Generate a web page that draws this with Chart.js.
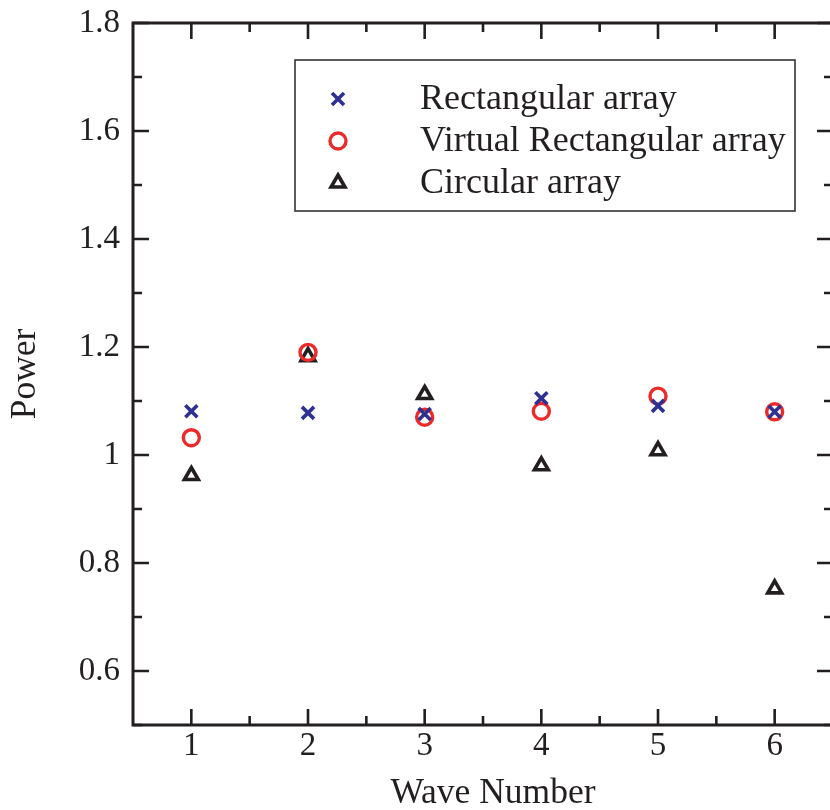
<!DOCTYPE html>
<html>
<head>
<meta charset="utf-8">
<script src="https://cdn.jsdelivr.net/npm/chart.js@4/dist/chart.umd.min.js"></script>
<style>
html,body{margin:0;padding:0;background:#fff;overflow:hidden;}
#wrap{position:absolute;left:0;top:0;width:840px;height:810px;}
</style>
</head>
<body>
<div id="wrap"><canvas id="c" width="840" height="810" style="width:840px;height:810px"></canvas></div>
<script>
const waveNumbers = [1, 2, 3, 4, 5, 6];
const rectangularArray = [1.081, 1.078, 1.076, 1.105, 1.091, 1.080];
const virtualRectangularArray = [1.032, 1.190, 1.070, 1.081, 1.109, 1.080];
const circularArray = [0.962, 1.182, 1.112, 0.980, 1.008, 0.752];
const seriesNames = ['Rectangular array', 'Virtual Rectangular array', 'Circular array'];
const xTickValues = [1, 2, 3, 4, 5, 6];
const xTickLabels = ['1', '2', '3', '4', '5', '6'];
const yTickValues = [0.6, 0.8, 1.0, 1.2, 1.4, 1.6, 1.8];
const yTickLabels = ['0.6', '0.8', '1', '1.2', '1.4', '1.6', '1.8'];
const xTitle = 'Wave Number';
const yTitle = 'Power';

const FONT = '"Liberation Serif", "Times New Roman", serif';
const TXT = '#231f20';
const BLUE = '#2e3192';
const RED = '#ed2a2a';
const BLACK = '#231f20';

function pts(ys){ return waveNumbers.map((x,i)=>({x:x, y:ys[i]})); }

const frameTicks = {
  id: 'frameTicks',
  afterDatasetsDraw(chart) {
    const {ctx, chartArea: a, scales: {x, y}} = chart;
    ctx.save();
    ctx.strokeStyle = TXT;
    ctx.lineCap = 'butt';
    ctx.lineWidth = 2.6;
    const major = 16, minor = 9;
    const xs = [];
    xTickValues.forEach(v => xs.push([v, major]));
    for (let k = 0; k < xTickValues.length - 1; k++) xs.push([(xTickValues[k] + xTickValues[k+1]) / 2, minor]);
    xs.forEach(([v, len]) => {
      const px = x.getPixelForValue(v);
      ctx.beginPath();
      ctx.moveTo(px, a.bottom); ctx.lineTo(px, a.bottom - len);
      ctx.moveTo(px, a.top); ctx.lineTo(px, a.top + len);
      ctx.stroke();
    });
    const ys = [];
    yTickValues.forEach(v => ys.push([v, major]));
    for (let k = 0; k < yTickValues.length - 1; k++) ys.push([(yTickValues[k] + yTickValues[k+1]) / 2, minor]);
    ys.push([yTickValues[0] - 0.1, minor]);
    ys.forEach(([v, len]) => {
      const py = y.getPixelForValue(v);
      ctx.beginPath();
      ctx.moveTo(a.left, py); ctx.lineTo(a.left + len, py);
      ctx.moveTo(a.right, py); ctx.lineTo(a.right - len, py);
      ctx.stroke();
    });
    ctx.lineWidth = 3;
    ctx.strokeRect(a.left, a.top, a.right - a.left, a.bottom - a.top);

    // x-axis title
    ctx.fillStyle = TXT;
    ctx.font = '35.5px ' + FONT;
    ctx.textAlign = 'center';
    ctx.textBaseline = 'alphabetic';
    ctx.fillText(xTitle, 493, 803);

    // legend box
    const lx = 295, ly = 60, lw = 500, lh = 151;
    ctx.fillStyle = '#fff';
    ctx.fillRect(lx, ly, lw, lh);
    ctx.lineWidth = 1.6;
    ctx.strokeStyle = '#333';
    ctx.strokeRect(lx, ly, lw, lh);
    const rows = [99, 141, 183];
    chart.data.datasets.forEach((ds, i) => {
      const cy = rows[i];
      ctx.save();
      ctx.strokeStyle = ds.borderColor;
      ctx.fillStyle = 'rgba(0,0,0,0)';
      ctx.lineWidth = ds.borderWidth;
      Chart.helpers.drawPoint(ctx, {pointStyle: ds.pointStyle, radius: ds.pointRadius, borderWidth: ds.borderWidth, rotation: 0}, 338, cy);
      ctx.restore();
      ctx.fillStyle = TXT;
      ctx.font = '36px ' + FONT;
      ctx.textAlign = 'left';
      ctx.textBaseline = 'middle';
      ctx.fillText(ds.label, 420, cy + 1);
    });
    ctx.restore();
  }
};

new Chart(document.getElementById('c'), {
  type: 'scatter',
  data: {
    datasets: [
      {label: seriesNames[0], data: pts(rectangularArray), pointStyle: 'crossRot', pointRadius: 8.5, pointHoverRadius: 8.5,
       borderColor: BLUE, backgroundColor: BLUE, borderWidth: 3.6, pointBorderWidth: 3.6},
      {label: seriesNames[1], data: pts(virtualRectangularArray), pointStyle: 'circle', pointRadius: 8, pointHoverRadius: 8,
       borderColor: RED, backgroundColor: 'rgba(0,0,0,0)', borderWidth: 3.4, pointBorderWidth: 3.4},
      {label: seriesNames[2], data: pts(circularArray), pointStyle: 'triangle', pointRadius: 8, pointHoverRadius: 8,
       borderColor: BLACK, backgroundColor: 'rgba(0,0,0,0)', borderWidth: 3.6, pointBorderWidth: 3.6}
    ]
  },
  options: {
    responsive: false,
    animation: false,
    devicePixelRatio: 1,
    layout: {autoPadding: false, padding: {top: 23, right: 7, left: 0, bottom: 0}},
    plugins: {legend: {display: false}, tooltip: {enabled: false}},
    scales: {
      x: {
        type: 'linear', min: 0.5, max: 6.5,
        afterBuildTicks: s => { s.ticks = xTickValues.map(v => ({value: v})); },
        afterFit: s => { s.height = 85; s.paddingLeft = 0; s.paddingRight = 0; },
        grid: {display: false, drawTicks: false},
        border: {display: false},
        ticks: {
          callback: (v) => xTickLabels[xTickValues.indexOf(v)],
          color: TXT, font: {family: FONT, size: 33}, padding: 2, maxRotation: 0, autoSkip: false
        },
        title: {display: false}
      },
      y: {
        type: 'linear', min: 0.5, max: 1.8,
        afterBuildTicks: s => { s.ticks = yTickValues.map(v => ({value: v})); },
        afterFit: s => { s.width = 133; s.paddingTop = 0; s.paddingBottom = 0; },
        grid: {display: false, drawTicks: false},
        border: {display: false},
        ticks: {
          callback: (v) => { const i = yTickValues.findIndex(t => Math.abs(t - v) < 1e-9); return i >= 0 ? yTickLabels[i] : ''; },
          color: TXT, font: {family: FONT, size: 33}, padding: 13, autoSkip: false
        },
        title: {display: true, text: yTitle, color: TXT, font: {family: FONT, size: 35.5}, padding: {top: 4, bottom: 0}}
      }
    }
  },
  plugins: [frameTicks]
});
</script>
</body>
</html>
